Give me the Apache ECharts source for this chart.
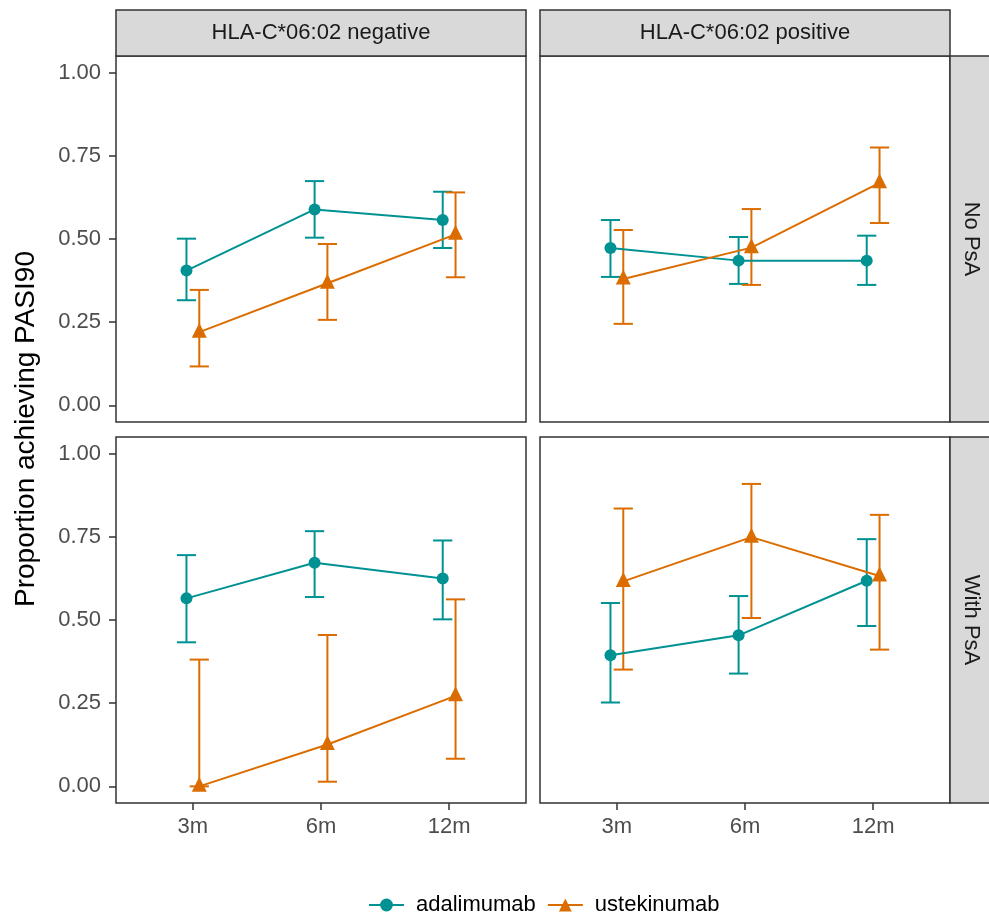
<!DOCTYPE html>
<html>
<head>
<meta charset="utf-8">
<script src="https://cdn.jsdelivr.net/npm/echarts@6/dist/echarts.min.js"></script>
<style>
html,body{margin:0;padding:0;background:#fff;}
#chart{width:989px;height:916px;}
</style>
</head>
<body>
<div id="chart"></div>
<script>
// ---------- data ----------
const timepoints = ['3m', '6m', '12m'];
const yTicks = [0, 0.25, 0.5, 0.75, 1];
const hlaLabels = ['HLA-C*06:02 negative', 'HLA-C*06:02 positive'];
const psaLabels = ['No PsA', 'With PsA'];
const drugs = ['adalimumab', 'ustekinumab'];

// HLA negative, No PsA
const ada_negNo_est = [0.405, 0.589, 0.557];
const ada_negNo_lo  = [0.316, 0.504, 0.473];
const ada_negNo_hi  = [0.501, 0.674, 0.642];
const ust_negNo_est = [0.220, 0.367, 0.514];
const ust_negNo_lo  = [0.117, 0.257, 0.385];
const ust_negNo_hi  = [0.347, 0.485, 0.640];
// HLA positive, No PsA
const ada_posNo_est = [0.473, 0.435, 0.435];
const ada_posNo_lo  = [0.386, 0.365, 0.362];
const ada_posNo_hi  = [0.557, 0.506, 0.510];
const ust_posNo_est = [0.380, 0.474, 0.669];
const ust_posNo_lo  = [0.245, 0.362, 0.548];
const ust_posNo_hi  = [0.527, 0.590, 0.775];
// HLA negative, With PsA
const ada_negWith_est = [0.565, 0.672, 0.625];
const ada_negWith_lo  = [0.433, 0.569, 0.502];
const ada_negWith_hi  = [0.695, 0.767, 0.739];
const ust_negWith_est = [0.000, 0.126, 0.272];
const ust_negWith_lo  = [0.000, 0.014, 0.083];
const ust_negWith_hi  = [0.381, 0.455, 0.562];
// HLA positive, With PsA
const ada_posWith_est = [0.394, 0.454, 0.618];
const ada_posWith_lo  = [0.252, 0.339, 0.482];
const ada_posWith_hi  = [0.551, 0.572, 0.743];
const ust_posWith_est = [0.616, 0.749, 0.632];
const ust_posWith_lo  = [0.351, 0.506, 0.411];
const ust_posWith_hi  = [0.835, 0.909, 0.816];

// ---------- styling ----------
const COLORS = { adalimumab: '#009292', ustekinumab: '#db6d00' };
const SYMBOLS = { adalimumab: 'circle', ustekinumab: 'triangle' };
const SYM_SIZE = { adalimumab: 12, ustekinumab: 15 };
const DODGE = { adalimumab: -0.05, ustekinumab: 0.05 };
const FONT = '"Liberation Sans", Arial, Helvetica, sans-serif';

const panels = [
  { row: 0, col: 0, ada: [ada_negNo_est, ada_negNo_lo, ada_negNo_hi], ust: [ust_negNo_est, ust_negNo_lo, ust_negNo_hi] },
  { row: 0, col: 1, ada: [ada_posNo_est, ada_posNo_lo, ada_posNo_hi], ust: [ust_posNo_est, ust_posNo_lo, ust_posNo_hi] },
  { row: 1, col: 0, ada: [ada_negWith_est, ada_negWith_lo, ada_negWith_hi], ust: [ust_negWith_est, ust_negWith_lo, ust_negWith_hi] },
  { row: 1, col: 1, ada: [ada_posWith_est, ada_posWith_lo, ada_posWith_hi], ust: [ust_posWith_est, ust_posWith_lo, ust_posWith_hi] }
];

const gridLeft = [116, 540];
const gridTop = [56, 437];
const gridW = 410, gridH = 366;

const grids = [], xAxes = [], yAxes = [], series = [];

panels.forEach((p, i) => {
  grids.push({
    left: gridLeft[p.col], top: gridTop[p.row], width: gridW, height: gridH,
    show: true, borderColor: '#333333', borderWidth: 1.5, backgroundColor: '#ffffff'
  });
  const bottomRow = p.row === 1;
  const leftCol = p.col === 0;
  xAxes.push({
    gridIndex: i, type: 'value', min: 0.4, max: 3.6, position: 'bottom',
    splitLine: { show: false },
    axisLine: { show: false, onZero: false },
    axisTick: { show: bottomRow, customValues: [1, 2, 3], length: 7, lineStyle: { color: '#333333', width: 1.5 } },
    axisLabel: {
      show: bottomRow, customValues: [1, 2, 3], margin: 13,
      formatter: v => timepoints[Math.round(v) - 1] || '',
      fontFamily: FONT, fontSize: 22, color: '#4D4D4D'
    }
  });
  yAxes.push({
    gridIndex: i, type: 'value', min: -0.05, max: 1.05, position: 'left',
    splitLine: { show: false },
    axisLine: { show: false, onZero: false },
    axisTick: { show: leftCol, customValues: yTicks, length: 7, lineStyle: { color: '#333333', width: 1.5 } },
    axisLabel: {
      show: leftCol, customValues: yTicks, margin: 15,
      formatter: v => v.toFixed(2),
      fontFamily: FONT, fontSize: 22, color: '#4D4D4D'
    }
  });

  drugs.forEach(d => {
    const arr = d === 'adalimumab' ? p.ada : p.ust;
    const est = arr[0], lo = arr[1], hi = arr[2];
    const errData = timepoints.map((t, k) => [k + 1 + DODGE[d], lo[k], hi[k]]);
    series.push({
      type: 'custom', name: d + ' CI', xAxisIndex: i, yAxisIndex: i,
      silent: true, z: 2,
      data: errData,
      renderItem: (params, api) => {
        const x = api.value(0);
        const top = api.coord([x, api.value(2)]);
        const bot = api.coord([x, api.value(1)]);
        const l = api.coord([x - 0.075, api.value(2)]);
        const r = api.coord([x + 0.075, api.value(2)]);
        const style = { stroke: COLORS[d], lineWidth: 2 };
        return {
          type: 'group',
          children: [
            { type: 'line', shape: { x1: top[0], y1: top[1], x2: bot[0], y2: bot[1] }, style },
            { type: 'line', shape: { x1: l[0], y1: top[1], x2: r[0], y2: top[1] }, style },
            { type: 'line', shape: { x1: l[0], y1: bot[1], x2: r[0], y2: bot[1] }, style }
          ]
        };
      }
    });
    series.push({
      type: 'line', name: d, xAxisIndex: i, yAxisIndex: i, z: 3,
      data: timepoints.map((t, k) => [k + 1 + DODGE[d], est[k]]),
      symbol: SYMBOLS[d], symbolSize: SYM_SIZE[d],
      symbolOffset: d === 'ustekinumab' ? [0, -2] : [0, 0],
      lineStyle: { color: COLORS[d], width: 2 },
      itemStyle: { color: COLORS[d] },
      showSymbol: true, silent: true
    });
  });
});

// strips + axis title
const graphics = [];
hlaLabels.forEach((lab, c) => {
  graphics.push({
    type: 'rect', shape: { x: gridLeft[c], y: 10, width: gridW, height: 46 },
    style: { fill: '#D9D9D9', stroke: '#333333', lineWidth: 1.5 }, z: 10
  });
  graphics.push({
    type: 'text', x: gridLeft[c] + gridW / 2, y: 33, z: 11,
    style: { text: lab, fill: '#1A1A1A', font: '22px ' + FONT, align: 'center', verticalAlign: 'middle' }
  });
});
psaLabels.forEach((lab, r) => {
  graphics.push({
    type: 'rect', shape: { x: 950, y: gridTop[r], width: 45, height: gridH },
    style: { fill: '#D9D9D9', stroke: '#333333', lineWidth: 1.5 }, z: 10
  });
  graphics.push({
    type: 'text', x: 971, y: gridTop[r] + gridH / 2, rotation: -Math.PI / 2, z: 11,
    style: { text: lab, fill: '#1A1A1A', font: '22px ' + FONT, align: 'center', verticalAlign: 'middle' }
  });
});
graphics.push({
  type: 'text', x: 26, y: 429, rotation: Math.PI / 2, z: 11,
  style: { text: 'Proportion achieving PASI90', fill: '#000000', font: '28px ' + FONT, align: 'center', verticalAlign: 'middle' }
});

const chart = echarts.init(document.getElementById('chart'), null, { renderer: 'canvas' });
chart.setOption({
  animation: false,
  backgroundColor: '#ffffff',
  grid: grids,
  xAxis: xAxes,
  yAxis: yAxes,
  series: series,
  graphic: graphics,
  legend: {
    data: drugs,
    left: 363, top: 889,
    itemWidth: 35, itemHeight: 16, itemGap: 11,
    textStyle: { fontFamily: FONT, fontSize: 22, color: '#000000', padding: [0, 0, 0, 7] }
  }
});
</script>
</body>
</html>
